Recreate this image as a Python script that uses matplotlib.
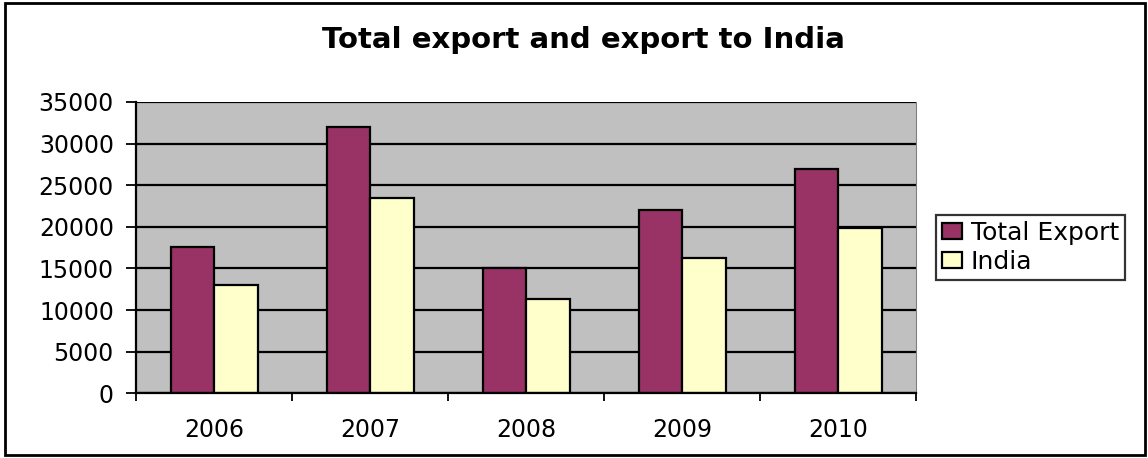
import matplotlib.pyplot as plt
import numpy as np
from matplotlib.patches import Rectangle

# yearly figures
years = ['2006', '2007', '2008', '2009', '2010']
total_export = [17600, 32000, 15100, 22000, 27000]
india = [13000, 23500, 11300, 16300, 19800]

plt.rcParams['font.family'] = ['DejaVu Sans']

fig = plt.figure(figsize=(11.48, 4.58), dpi=100)
ax = fig.add_axes([0.1185, 0.1413, 0.6795, 0.636])

x = np.arange(len(years))
w = 0.279

ax.set_facecolor('#C0C0C0')
ax.set_axisbelow(True)
ax.yaxis.grid(True, color='black', linewidth=1.6)

ax.bar(x - w/2, total_export, width=w, color='#993366', edgecolor='black',
       linewidth=1.6, label='Total Export')
ax.bar(x + w/2, india, width=w, color='#FFFFCC', edgecolor='black',
       linewidth=1.6, label='India')

ax.set_xlim(-0.5, 4.5)
ax.set_ylim(0, 35000)
ax.set_yticks(range(0, 35001, 5000))
ax.tick_params(axis='y', labelsize=17, length=7, width=1.3, pad=9)

# category labels between boundary ticks
ax.set_xticks(x)
ax.set_xticklabels(years)
ax.set_xticks(np.arange(-0.5, 5, 1), minor=True)
ax.tick_params(axis='x', which='major', length=0, labelsize=17, pad=18)
ax.tick_params(axis='x', which='minor', length=6, width=1.3)

ax.spines['top'].set_visible(False)
ax.spines['right'].set_color('#808080')
ax.spines['left'].set_linewidth(1.6)
ax.spines['bottom'].set_linewidth(1.6)

fig.text(0.508, 0.912, 'Total export and export to India', ha='center', va='center',
         fontsize=21, fontweight='bold')

leg = ax.legend(loc='center left', bbox_to_anchor=(1.025, 0.5), fontsize=18,
                frameon=True, fancybox=False, edgecolor='black', handlelength=0.8,
                handleheight=0.6, handletextpad=0.35, borderpad=0.25, labelspacing=0.2,
                borderaxespad=0)
leg.get_frame().set_linewidth(1.6)

# border round the whole chart
fig.patches.append(Rectangle((0.004, 0.006), 0.993, 0.988, transform=fig.transFigure,
                             fill=False, edgecolor='black', linewidth=2))

fig.savefig('out.png', dpi=100)
